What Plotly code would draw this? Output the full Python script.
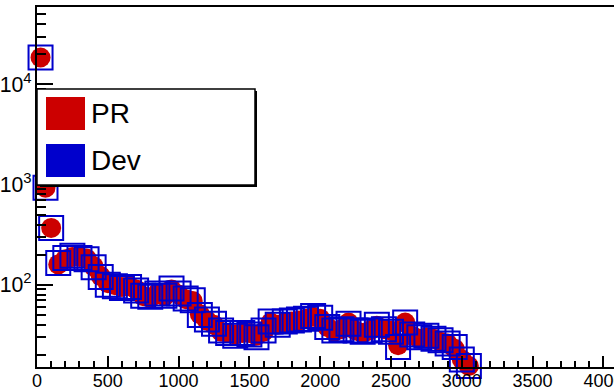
import plotly.graph_objects as go

# ---- data ----
x_vals = [25, 60, 100, 150, 200, 250, 300, 350, 400, 450, 500, 550, 600, 650, 700,
          750, 800, 850, 900, 950, 1000, 1050, 1100, 1150, 1200, 1250, 1300, 1350,
          1400, 1450, 1500, 1550, 1600, 1650, 1700, 1750, 1800, 1850, 1900, 1950,
          2000, 2050, 2100, 2150, 2200, 2250, 2300, 2350, 2400, 2450, 2500, 2550,
          2600, 2650, 2700, 2750, 2800, 2850, 2900, 2950, 3000, 3050]
pr_vals = [18600, 930, 370, 160, 180, 190, 190, 183, 153, 122, 104, 99, 95, 97, 90,
           77, 74, 83, 77, 90, 80, 72, 69, 51, 44, 40, 34, 33, 32, 33, 33, 31, 34,
           42, 40, 42, 43, 44, 46, 48, 46, 38, 34, 36, 42, 35, 33, 35, 39, 36, 35,
           25, 42, 31, 29, 30, 29, 27, 26, 23, 18, 15.5]
dev_vals = [18600, 930, 370, 165, 185, 195, 185, 180, 150, 120, 100, 97, 93, 95, 88,
            78, 76, 82, 78, 92, 82, 73, 70, 50, 45, 41, 35, 33, 31, 33, 32, 30, 35,
            43, 40, 43, 44, 45, 46, 49, 47, 38, 35, 36, 41, 35, 34, 35, 40, 36, 34,
            24, 42, 32, 30, 31, 29, 28, 26, 24, 18, 15.5]
series_names = ["PR", "Dev"]
series_colors = ["#cc0000", "#0000cc"]

W, H = 614, 388
L, R, T, B = 37, 0, 7, 21
pw, ph = W - L - R, H - T - B


def px_x(p):
    return (p - L) / pw


def px_y(p):
    return (H - B - p) / ph


fig = go.Figure()
fig.add_trace(go.Scatter(
    x=x_vals, y=pr_vals, mode="markers", name=series_names[0],
    marker=dict(symbol="circle", size=20, color=series_colors[0], line=dict(width=0)),
    showlegend=False, cliponaxis=False))
fig.add_trace(go.Scatter(
    x=x_vals, y=dev_vals, mode="markers", name=series_names[1],
    marker=dict(symbol="square-open", size=24, color=series_colors[1],
                line=dict(width=2, color=series_colors[1])),
    showlegend=False, cliponaxis=False))

font = dict(family="Liberation Sans, Arial, sans-serif", color="black")

fig.update_xaxes(
    range=[0, (W - L) / 0.1416], showline=True, linecolor="black", linewidth=2,
    mirror=True, ticks="inside", ticklen=11, tickwidth=2, tickcolor="black",
    dtick=500, tick0=0, showgrid=False, zeroline=False, automargin=False,
    tickfont=dict(size=18, **font), ticklabelstandoff=-4, ticklabeloverflow="allow",
    minor=dict(ticks="inside", ticklen=6, tickwidth=2, tickcolor="black", dtick=100, showgrid=False))
fig.update_yaxes(
    type="log", range=[1.18, 4.773], showline=True, linecolor="black", linewidth=2,
    mirror=False, ticks="inside", ticklen=16, tickwidth=2, tickcolor="black",
    dtick=1, exponentformat="power", showgrid=False, zeroline=False, automargin=False,
    tickfont=dict(size=17, **font),
    minor=dict(ticks="inside", ticklen=9, tickwidth=2, tickcolor="black", dtick="D1", showgrid=False))

# legend box drawn as shapes on top of the data
shapes = [
    dict(type="rect", xref="paper", yref="paper", x0=px_x(40), x1=px_x(257), y0=px_y(187), y1=px_y(91),
         fillcolor="black", line=dict(width=0), layer="above"),
    dict(type="rect", xref="paper", yref="paper", x0=px_x(37), x1=px_x(255), y0=px_y(185), y1=px_y(89),
         fillcolor="white", line=dict(color="black", width=1.5), layer="above"),
    dict(type="rect", xref="paper", yref="paper", x0=px_x(46), x1=px_x(85), y0=px_y(130), y1=px_y(97),
         fillcolor=series_colors[0], line=dict(width=0), layer="above"),
    dict(type="rect", xref="paper", yref="paper", x0=px_x(46), x1=px_x(85), y0=px_y(177), y1=px_y(144),
         fillcolor=series_colors[1], line=dict(width=0), layer="above"),
]
annotations = [
    dict(xref="paper", yref="paper", x=px_x(89), y=px_y(113.5), text=series_names[0], showarrow=False,
         xanchor="left", yanchor="middle", font=dict(size=28, **font)),
    dict(xref="paper", yref="paper", x=px_x(89), y=px_y(160.5), text=series_names[1], showarrow=False,
         xanchor="left", yanchor="middle", font=dict(size=28, **font)),
]

fig.update_layout(
    width=W, height=H, margin=dict(l=L, r=R, t=T, b=B, pad=0),
    paper_bgcolor="white", plot_bgcolor="white",
    shapes=shapes, annotations=annotations, showlegend=False, font=font)

fig.write_html(
    "out.html",
    config={"displayModeBar": False},
    post_script="document.body.style.margin='0px';document.body.style.overflow='hidden';")
